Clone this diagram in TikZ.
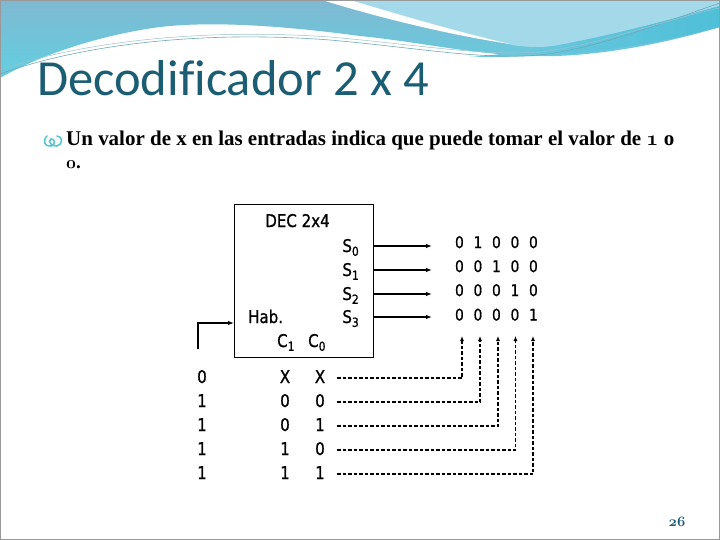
\documentclass[tikz,border=0pt]{standalone}
\usepackage{fontspec}
\usetikzlibrary{arrows.meta}
\newfontfamily\titlefont[Ligatures=NoCommon]{Carlito}
\newfontfamily\dfont[FakeStretch=0.86,FakeBold=0.9]{DejaVu Sans}
\newfontfamily\bulfont{Liberation Serif}
\definecolor{titlec}{HTML}{1B5E73}
\definecolor{bandA}{HTML}{7FB9D2}
\definecolor{bandB}{HTML}{62CFE1}
\definecolor{lightb}{HTML}{A4D9EA}
\definecolor{swoosh}{HTML}{4FBFD8}
\definecolor{thinl}{HTML}{6FA9B9}
\definecolor{bullc}{HTML}{5CC6D0}
\newcommand\subidx[1]{\raisebox{-0.4ex}{\fontsize{12.5}{12.5}\selectfont #1}}
\newcommand\dg[1]{\makebox[18.5pt]{#1}}
\newcommand\osn[1]{{\usefont{OML}{cmm}{b}{it}#1}}
\tikzset{
  dtext/.style={inner sep=0pt, font=\dfont\fontsize{17.5}{17.5}\selectfont},
  otext/.style={inner sep=0pt, font=\dfont\fontsize{16}{16}\selectfont},
  sarrow/.style={line width=1.4pt, -{Latex[length=6pt,width=4.5pt]}},
  darrow/.style={line width=1.2pt, dash pattern=on 3.5pt off 2pt, -{Latex[length=5pt,width=4pt]}},
}
\begin{document}
\begin{tikzpicture}[x=1pt,y=-1pt]
\useasboundingbox (0,0) rectangle (720,540);
\fill[white] (0,0) rectangle (720,540);
% top decoration
\shade[top color=bandA, bottom color=bandB]
  (0,0) -- (720,0) -- (720,27) .. controls (660,45) and (590,58) .. (530,56)
  .. controls (470,54) and (420,42) .. (360,36) .. controls (300,28) and (220,20) .. (160,27)
  .. controls (100,35) and (40,55) .. (0,78) -- cycle;
\fill[lightb] (345,0) -- (720,0) -- (720,6) .. controls (650,25) and (590,45) .. (540,47)
  .. controls (520,47) and (510,45) .. (505,43) .. controls (450,30) and (390,12) .. (345,0) -- cycle;
\fill[white] (322,0) .. controls (380,18) and (450,35) .. (510,44)
  .. controls (450,30) and (390,12) .. (350,0) -- cycle;
\shade[left color=swoosh!60!lightb, right color=swoosh]
  (470,57) .. controls (560,50) and (650,25) .. (720,6) -- (720,27)
  .. controls (650,45) and (580,58) .. (470,57) -- cycle;
\draw[thinl, line width=0.6pt] (0,74) .. controls (80,45) and (200,30) .. (330,40)
  .. controls (420,48) and (480,60) .. (540,55) .. controls (600,48) and (670,20) .. (720,3);
\draw[thinl!70, line width=0.5pt] (0,70) .. controls (80,42) and (200,28) .. (330,37)
  .. controls (420,45) and (480,56) .. (540,52) .. controls (600,45) and (670,18) .. (720,8);
\draw[gray!80, line width=1pt] (0.5,0.5) rectangle (719.5,539.5);
% title
\node[anchor=base west, inner sep=0pt, text=titlec,
  font=\titlefont\fontsize{50.5}{50.5}\selectfont] (title) at (37,96) {Decodificador 2 x 4};
% bullet
\draw[bullc, line width=1.6pt, line cap=round] (47,136) .. controls (42,141) and (45,147) .. (51,146)
  .. controls (56,145) and (55,138) .. (51,139) .. controls (47,141) and (52,147) .. (57,146)
  .. controls (63,145) and (63,136) .. (57,136);
\node[anchor=base west, inner sep=0pt] (bul1) at (66,146)
  {\resizebox{608pt}{!}{\bulfont\bfseries Un valor de x en las entradas indica que puede tomar el valor de \osn{1} o}};
\node[anchor=base west, inner sep=0pt, font=\fontsize{19}{19}\selectfont] (bul2) at (66,169) {\osn{0}\bulfont\bfseries .};
% page number
\node[inner sep=0pt, text=titlec, font=\fontsize{14}{14}\selectfont] (pg) at (677,522) {\osn{26}};
% decoder box
\node[draw, line width=1pt, inner sep=0pt, minimum width=139pt, minimum height=153pt,
  anchor=north west] (dec) at (234,204) {};
\node[dtext, anchor=base] (dectitle) at (297.5,227) {DEC 2x4};
\node[dtext, anchor=base east] (s0) at (359,252) {S\subidx{0}};
\node[dtext, anchor=base east] (s1) at (359,276) {S\subidx{1}};
\node[dtext, anchor=base east] (s2) at (359,300) {S\subidx{2}};
\node[dtext, anchor=base east] (s3) at (359,323) {S\subidx{3}};
\node[dtext, anchor=base west] (hab) at (248,323) {Hab.};
\node[dtext, anchor=base west] (c1) at (277,347) {C\subidx{1}};
\node[dtext, anchor=base west] (c0) at (308,347) {C\subidx{0}};
% outputs
\coordinate (o0) at (432,246);
\coordinate (o1) at (432,270);
\coordinate (o2) at (432,294);
\coordinate (o3) at (432,317);
\draw[sarrow] (dec.east |- o0) -- (o0);
\draw[sarrow] (dec.east |- o1) -- (o1);
\draw[sarrow] (dec.east |- o2) -- (o2);
\draw[sarrow] (dec.east |- o3) -- (o3);
\node[otext, anchor=base west] (r0) at (450,248) {\dg{0}\dg{1}\dg{0}\dg{0}\dg{0}};
\node[otext, anchor=base west] (r1) at (450,272) {\dg{0}\dg{0}\dg{1}\dg{0}\dg{0}};
\node[otext, anchor=base west] (r2) at (450,296) {\dg{0}\dg{0}\dg{0}\dg{1}\dg{0}};
\node[otext, anchor=base west] (r3) at (450,320.5) {\dg{0}\dg{0}\dg{0}\dg{0}\dg{1}};
% enable input
\coordinate (en) at (198,349);
\draw[sarrow] (en) |- (dec.west |- 0,323);
% table
\foreach \i/\a/\b/\c/\y in {1/0/X/X/383, 2/1/0/0/407, 3/1/0/1/431, 4/1/1/0/455, 5/1/1/1/479}{
  \node[dtext, anchor=base] (ta\i) at (202,\y) {\a};
  \node[dtext, anchor=base] (tb\i) at (285,\y) {\b};
  \node[dtext, anchor=base] (tc\i) at (320,\y) {\c};
}
% dashed connectors
\foreach \i/\x in {1/462, 2/480, 3/498, 4/515.5, 5/533}{
  \coordinate (up\i) at (\x,336);
  \coordinate (ds\i) at (337,{354+24*\i});
  \draw[darrow] (ds\i) -| (up\i);
}
\end{tikzpicture}
\end{document}
